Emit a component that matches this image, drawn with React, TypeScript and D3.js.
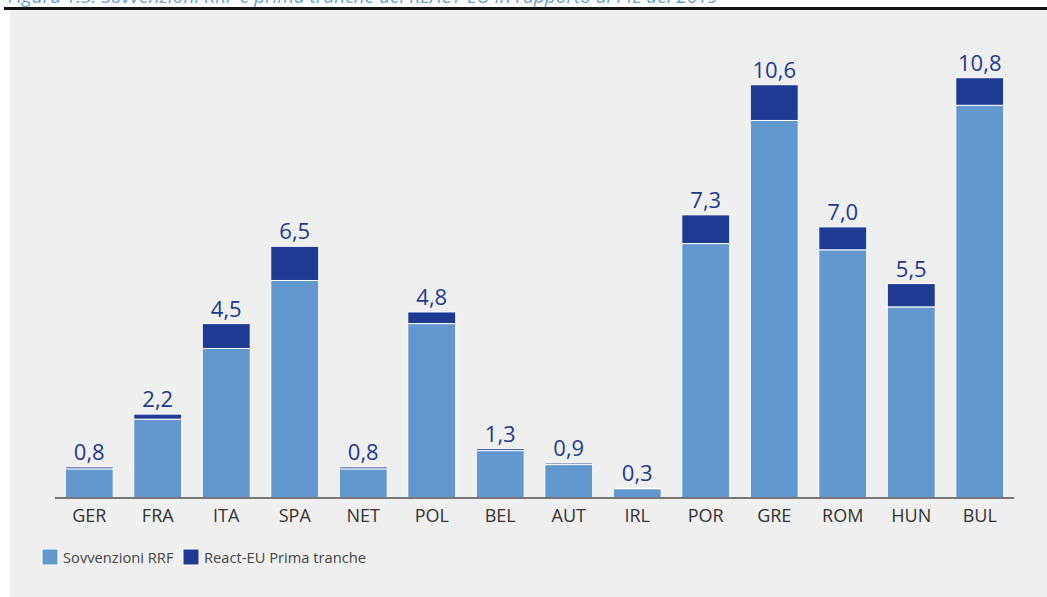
import React, { useEffect, useRef } from 'react';
import * as d3 from 'd3';

const categories = ['GER', 'FRA', 'ITA', 'SPA', 'NET', 'POL', 'BEL', 'AUT', 'IRL', 'POR', 'GRE', 'ROM', 'HUN', 'BUL'];
const rrf = [0.75, 2.03, 3.85, 5.6, 0.75, 4.49, 1.22, 0.86, 0.24, 6.55, 9.72, 6.39, 4.92, 10.11];
const reactEu = [0.05, 0.13, 0.64, 0.88, 0.05, 0.3, 0.05, 0.04, 0.01, 0.74, 0.92, 0.59, 0.6, 0.71];
const totalLabels = ['0,8', '2,2', '4,5', '6,5', '0,8', '4,8', '1,3', '0,9', '0,3', '7,3', '10,6', '7,0', '5,5', '10,8'];
const seriesNames = ['Sovvenzioni RRF', 'React-EU Prima tranche'];
const title = 'Figura 1.5: Sovvenzioni RRF e prima tranche del REACT-EU in rapporto al PIL del 2019';

const W = 1047;
const H = 597;
const colors = ['#6398cf', '#1f3a93'];
const font = "'Open Sans', 'Noto Sans', sans-serif";

function App() {
  const svgRef = useRef<SVGSVGElement>(null);

  useEffect(() => {
    const svg = d3.select(svgRef.current);
    svg.selectAll('*').remove();

    // page background + grey panel
    svg.append('rect').attr('width', W).attr('height', H).attr('fill', '#ffffff');
    svg.append('rect').attr('x', 10).attr('y', 10).attr('width', W - 10).attr('height', H - 10).attr('fill', '#efefef');
    svg.append('rect').attr('x', 4).attr('y', 7).attr('width', W - 4).attr('height', 3).attr('fill', '#111');

    // title, cropped at the top edge like in the source page
    svg.append('text')
      .attr('x', 8).attr('y', 3)
      .attr('font-family', font).attr('font-style', 'italic')
      .attr('font-size', 19).attr('fill', '#6a9fd4')
      .text(title);

    const x = d3.scaleBand()
      .domain(categories)
      .range([55, 1014])
      .paddingInner(0.3)
      .paddingOuter(0.15);

    const y = d3.scaleLinear()
      .domain([0, 10.8])
      .range([498, 78.5]);

    const rows = categories.map((c, i) => ({ cat: c, rrf: rrf[i], react: reactEu[i] }));
    const stacked = d3.stack<any>().keys(['rrf', 'react'])(rows);

    svg.append('g')
      .selectAll('g')
      .data(stacked)
      .enter()
      .append('g')
      .attr('fill', (d, i) => colors[i])
      .selectAll('rect')
      .data(d => d)
      .enter()
      .append('rect')
      .attr('x', d => x(d.data.cat))
      .attr('y', d => y(d[1]))
      .attr('width', x.bandwidth())
      .attr('height', d => y(d[0]) - y(d[1]))
      .attr('stroke', '#ffffff')
      .attr('stroke-width', 1);

    // total labels
    svg.append('g')
      .selectAll('text')
      .data(rows)
      .enter()
      .append('text')
      .attr('x', d => x(d.cat) + x.bandwidth() / 2)
      .attr('y', d => y(d.rrf + d.react) - 7)
      .attr('text-anchor', 'middle')
      .attr('font-family', font)
      .attr('font-size', 22)
      .attr('fill', '#1f3a93')
      .text((d, i) => totalLabels[i]);

    // x axis
    const xAxis = svg.append('g')
      .attr('transform', 'translate(0,498)')
      .call(d3.axisBottom(x).tickSize(0).tickPadding(11));
    xAxis.select('.domain').attr('stroke', '#777').attr('stroke-width', 2).attr('d', 'M55,0H1014');
    xAxis.selectAll('text')
      .attr('font-family', font)
      .attr('font-size', 18)
      .attr('fill', '#333');

    // legend
    const legendX = [42, 183];
    const legend = svg.append('g')
      .selectAll('g')
      .data(seriesNames)
      .enter()
      .append('g')
      .attr('transform', (d, i) => `translate(${legendX[i]},549)`);
    legend.append('rect')
      .attr('width', 16).attr('height', 16)
      .attr('fill', (d, i) => colors[i])
      .attr('stroke', '#ffffff').attr('stroke-width', 1);
    legend.append('text')
      .attr('x', 21).attr('y', 14)
      .attr('font-family', font)
      .attr('font-size', 14.7)
      .attr('fill', '#444')
      .text(d => d);
  }, []);

  return (
    <div>
      <svg ref={svgRef} width={W} height={H} style={{ position: 'absolute', left: 0, top: 0 }}></svg>
    </div>
  );
}

export default App;
